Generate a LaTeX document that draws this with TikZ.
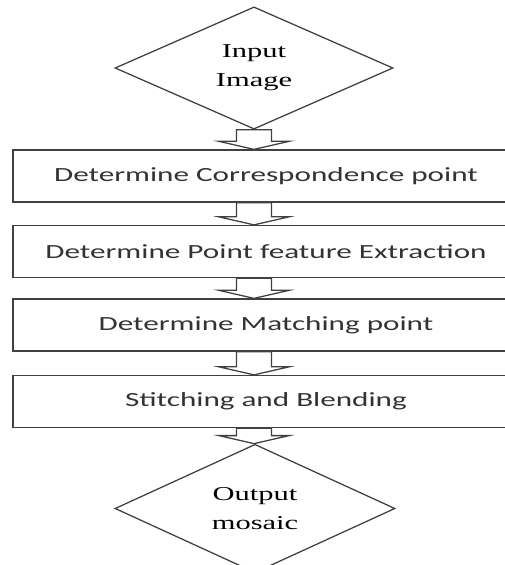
\documentclass[tikz,border=0pt]{standalone}
\usepackage{fontspec}
\setmainfont[FakeStretch=1.55]{Liberation Serif}
\newfontfamily\boxfont[FakeStretch=1.55]{Carlito}
\usetikzlibrary{shapes.geometric,calc}

\newcommand{\blockarrow}[2]{%
  \draw[blockarrow] ($(input.south |- #1.south)+(-17.5,0)$) -- ($(input.south |- #2.north)+(-17.5,-8)$)
    -- ++(-17.5,0) -- (input.south |- #2.north) -- ++(35,-8) -- ++(-17.5,0)
    -- ($(input.south |- #1.south)+(17.5,0)$) -- cycle;}

\begin{document}
\begin{tikzpicture}[x=0.025cm,y=-0.025cm,
    decision/.style ={diamond, draw=black!75, line width=0.9pt, inner sep=0pt, align=center,
      font=\fontsize{14}{20.5}\selectfont},
    process/.style ={rectangle, draw=black!75, line width=0.9pt, minimum width=12.65cm,
      minimum height=1.3cm, text=black!80, font=\boxfont\fontsize{14.3}{17}\selectfont},
    blockarrow/.style ={draw=black!75, line width=0.9pt, fill=white, line join=miter}]
   \useasboundingbox (0,0) rectangle (505,565);
   \clip (0,0) rectangle (505,565);
   \node[decision, minimum width=6.95cm, minimum height=2.9cm] (input) at (254,68) {Input\\Image};
   \node[process] (corr)   at (266,176)   {Determine Correspondence point};
   \node[process] (feat)   at (266,251.5) {Determine Point feature Extraction};
   \node[process] (match)  at (266,325)   {Determine Matching point};
   \node[process] (stitch) at (266,401.5) {Stitching and Blending};
   \node[decision, minimum width=7cm, minimum height=2.825cm] (output) at (255,508.5) {Output\\mosaic};
   \blockarrow{input}{corr}
   \blockarrow{corr}{feat}
   \blockarrow{feat}{match}
   \blockarrow{match}{stitch}
   \blockarrow{stitch}{output}
\end{tikzpicture}
\end{document}
